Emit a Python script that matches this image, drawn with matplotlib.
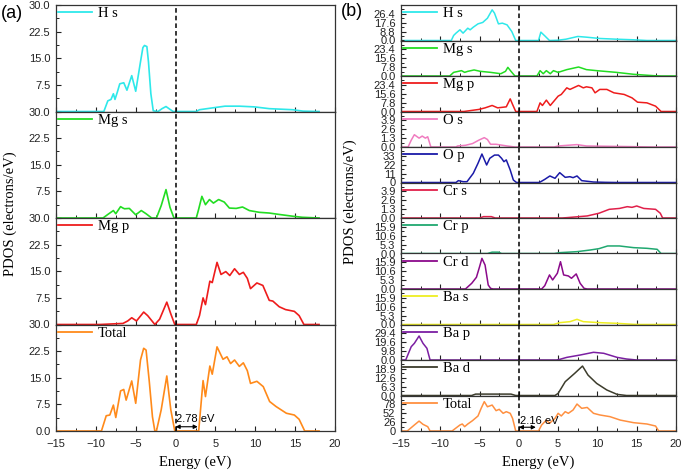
import numpy as np
import matplotlib
matplotlib.use("Agg")
import matplotlib.pyplot as plt
from matplotlib.ticker import MultipleLocator, FixedLocator, FixedFormatter

SANS = "Liberation Sans"
SERIF = "Liberation Serif"
plt.rcParams["font.family"] = SANS

# ==============================
#  DATA  (a) MgH2-like panel
# ==============================
a_hs_e = [-15, -9.0, -8.5, -8.1, -7.8, -7.6, -7.3, -7.0, -6.5, -6.1, -5.5, -5.0, -4.4, -4.1, -3.9, -3.6, -3.4,
          -3.1, -2.8, -2.2, -1.7, -1.2, -0.7, -0.3, 2.6, 3.0, 4.9, 6.2, 8.0, 9.9, 11.75, 14.7, 16.0, 18.0]
a_hs_v = [0, 0, 3.0, 3.4, 5.0, 3.4, 5.5, 7.8, 8.1, 6.0, 10.1, 5.7, 14.0, 18.0, 18.6, 18.3, 14.0,
          5.0, 0.2, 0, 0.8, 1.4, 0.6, 0, 0, 0.5, 1.1, 1.5, 1.5, 1.3, 0.8, 0.5, 0.1, 0]

a_mgs_e = [-15, -9.1, -8.5, -7.8, -7.5, -6.9, -6.6, -6.4, -5.8, -5.4, -5.0, -4.3, -3.7, -3.0, -2.4, -1.8, -1.2,
           -0.7, -0.2, 2.6, 2.9, 3.3, 3.75, 4.25, 4.75, 5.4, 6.1, 6.75, 7.6, 8.4, 9.25, 10.5, 11.75, 13.0,
           14.7, 15.9, 18.0]
a_mgs_v = [0, 0, 1.0, 2.1, 1.2, 3.2, 2.8, 2.6, 2.7, 1.8, 0.9, 2.1, 1.2, 0, 0, 3.5, 8.0,
           3.0, 0, 0, 2.5, 6.1, 3.75, 5.2, 4.2, 5.2, 4.5, 2.8, 2.7, 3.1, 2.1, 1.6, 1.4, 1.0,
           0.5, 0.2, 0]

a_mgp_e = [-15, -9.5, -6.6, -6.0, -5.5, -4.9, -4.0, -3.5, -2.6, -2.0, -1.1, -0.6, -0.1, 2.6, 3.0, 3.45, 3.75,
           4.3, 4.6, 5.2, 5.7, 6.3, 6.8, 7.4, 8.0, 8.5, 9.0, 9.4, 10.2, 10.95, 11.75, 12.2, 13.0, 13.8,
           14.9, 15.5, 16.1, 18.0]
a_mgp_v = [0, 0, 0.3, 1.0, 1.9, 1.0, 3.5, 2.5, 0, 1.5, 6.3, 3.0, 0, 0, 2.5, 7.5, 5.6,
           12.2, 11.8, 17.5, 14.1, 14.9, 13.8, 15.7, 14.1, 14.7, 13.0, 10.1, 11.7, 11.0, 6.8, 6.6, 5.0, 4.2,
           3.7, 2.5, 0, 0]

a_tot_e = [-15, -9.3, -8.7, -8.25, -7.8, -7.5, -6.9, -6.5, -6.2, -5.5, -5.0, -4.4, -4.0, -3.7, -3.3, -2.9,
           -2.6, -2.4, -1.8, -1.1, -0.6, -0.1, 2.9, 3.45, 3.75, 4.3, 4.6, 5.2, 5.95, 6.45, 6.9, 7.4, 8.0,
           8.5, 9.0, 9.4, 10.2, 11.0, 11.8, 12.6, 13.9, 14.9, 15.5, 16.2, 18.0]
a_tot_v = [0, 0, 4.3, 4.5, 7.3, 3.8, 11.3, 11.7, 8.7, 14.1, 7.8, 20.0, 23.3, 22.8, 14.0, 4.0,
           0, 0, 6.0, 15.5, 6.0, 0, 0, 14.2, 9.7, 18.3, 16.0, 23.7, 20.2, 20.9, 19.0, 20.0, 18.2,
           19.2, 17.0, 13.4, 14.0, 12.5, 8.3, 6.9, 5.0, 4.5, 3.3, 0, 0]

a_labels = ["H s", "Mg s", "Mg p", "Total"]
a_colors = ["#2EE8EA", "#22DD22", "#EE1C1C", "#FF8A1A"]
a_series = [(a_hs_e, a_hs_v), (a_mgs_e, a_mgs_v), (a_mgp_e, a_mgp_v), (a_tot_e, a_tot_v)]
a_ticks = [0, 7.5, 15, 22.5, 30]
a_gap = 2.78

# ==============================
#  DATA  (b) doped panel
# ==============================
b_hs_e = [-15, -8.6, -8.3, -8.0, -7.5, -7.1, -6.5, -6.2, -5.8, -5.2, -4.6, -4.0, -3.4, -3.1, -2.6, -2.1, -1.5,
          -0.9, -0.4, 2.5, 2.8, 3.3, 3.9, 5.0, 6.0, 7.5, 8.6, 10.3, 12.4, 14.6, 16.3, 20]
b_hs_v = [0, 0, 5.0, 7.3, 10.6, 7.3, 12.2, 10.6, 13.2, 16.5, 17.9, 22.1, 30.4, 27.1, 16.5, 17.2, 15.5,
          8.9, 0, 0, 8.3, 4.6, 0, 0.3, 1.3, 4.0, 3.3, 2.0, 1.3, 0.7, 0, 0]

b_mgs_e = [-15, -8.8, -8.3, -7.3, -6.9, -6.5, -5.7, -4.9, -3.6, -2.3, -1.7, -1.4, -1.0, -0.5, 2.3, 2.7, 3.1,
           3.5, 4.0, 4.4, 5.0, 6.1, 7.6, 8.6, 9.9, 12.4, 14.6, 17.1, 18.1, 20]
b_mgs_v = [0, 0, 3.2, 4.7, 3.2, 4.1, 5.3, 4.1, 3.2, 2.0, 4.1, 7.6, 4.1, 0, 0, 4.7, 2.0,
           4.7, 2.0, 4.7, 3.2, 5.6, 7.9, 5.6, 4.7, 3.2, 1.5, 0.3, 0, 0]

b_mgp_e = [-15, -7.0, -5.1, -4.3, -3.4, -2.7, -1.6, -1.1, -0.8, -0.4, 2.3, 2.7, 3.0, 3.5, 4.0, 5.0, 5.4, 6.1,
           6.5, 7.6, 8.2, 8.6, 9.3, 9.7, 10.3, 11.2, 12.1, 13.4, 14.4, 15.1, 16.3, 17.4, 18.1, 20]
b_mgp_v = [0, 0, 1.8, 3.2, 5.3, 3.2, 4.1, 11.1, 6.2, 0, 0, 7.6, 5.3, 10.0, 5.3, 13.5, 15.0, 20.8,
           19.4, 22.9, 20.8, 21.7, 20.8, 16.4, 19.4, 19.4, 16.4, 15.0, 12.0, 8.2, 7.6, 4.7, 0, 0]

b_os_e = [-15, -14.1, -13.7, -13.3, -12.7, -12.3, -11.9, -11.6, -11.2, -8.0, -7.8, -6.8, -5.9, -5.1, -4.4,
          -4.0, -3.6, -2.9, -1.5, -0.5, 4.5, 5.0, 7.4, 8.6, 14.6, 17.0, 20]
b_os_v = [0, 0, 1.0, 1.8, 1.3, 1.6, 1.3, 1.5, 0, 0, 0.15, 0.25, 0.5, 1.0, 1.37,
          1.1, 0.4, 0.4, 0.15, 0, 0, 0.15, 0.35, 0.15, 0.05, 0, 0]

b_op_e = [-15, -8.0, -7.7, -7.1, -6.6, -5.8, -5.2, -4.7, -4.1, -3.7, -3.1, -2.6, -2.2, -1.9, -1.6, -1.1,
          -0.7, -0.3, 2.5, 2.7, 3.3, 3.95, 4.6, 5.2, 5.9, 6.5, 6.9, 7.4, 8.0, 9.5, 11.0, 12.5, 20]
b_op_v = [0, 0, 2.3, 1.0, 1.0, 11.4, 23.8, 35.3, 21.7, 30.0, 34.0, 34.0, 30.0, 25.8, 28.0, 15.5,
          3.1, 0, 0, 0.5, 3.9, 8.1, 5.2, 12.2, 6.4, 7.2, 6.0, 8.1, 2.3, 0.6, 0.2, 0, 0]

b_crs_e = [-15, -5.0, -4.5, -3.5, -3.0, 5.5, 6.1, 8.7, 10.2, 11.5, 12.8, 13.8, 14.4, 15.0, 15.9, 17.4,
           18.0, 18.3, 20]
b_crs_v = [0, 0, 0.2, 0.2, 0, 0, 0.05, 0.3, 0.7, 1.27, 1.4, 1.66, 1.56, 1.76, 1.4, 1.27,
           0.7, 0, 0]

b_crp_e = [-15, -4.0, -3.4, -2.6, -2.2, 4.5, 5.2, 7.4, 9.1, 10.2, 11.3, 12.8, 14.6, 16.3, 17.6, 18.1, 20]
b_crp_v = [0, 0, 0.8, 0.8, 0, 0, 0.5, 1.1, 2.1, 2.9, 4.5, 4.5, 3.5, 3.1, 2.5, 0, 0]

b_crd_e = [-15, -6.8, -6.0, -5.4, -5.0, -4.7, -4.3, -3.9, -3.6, -3.3, 2.9, 3.3, 3.9, 4.3, 4.9, 5.3, 5.7,
           6.3, 6.7, 7.3, 7.8, 8.3, 8.7, 20]
b_crd_v = [0, 0, 3.4, 7.0, 13.3, 18.3, 14.3, 2.4, 0.4, 0, 0, 2.0, 8.4, 5.4, 9.4, 16.3, 8.4,
           7.8, 6.4, 9.0, 3.4, 0.4, 0, 0]

b_bas_e = [-15, 4.4, 5.2, 6.5, 7.4, 8.2, 10.3, 12.5, 14.6, 15.5, 20]
b_bas_v = [0, 0, 1.1, 1.7, 3.1, 1.7, 1.1, 0.7, 0.1, 0, 0]

b_bap_e = [-15, -14.4, -13.7, -13.3, -12.7, -12.2, -11.7, -11.3, 4.8, 5.2, 6.1, 7.8, 9.5, 10.8, 12.5, 13.7,
           15.0, 20]
b_bap_v = [0, 0, 14.7, 18.4, 26.5, 18.4, 12.9, 0, 0, 0.7, 2.9, 5.5, 8.5, 7.4, 2.9, 1.1,
           0, 0]

b_bad_e = [-15, -6.0, -5.5, -1.0, -0.4, 4.6, 5.0, 5.9, 7.1, 8.1, 8.8, 9.9, 11.2, 12.5, 13.7, 20]
b_bad_v = [0, 0, 1.0, 1.0, 0, 0, 1.5, 9.8, 15.7, 20.9, 14.5, 8.6, 3.9, 0.8, 0, 0]

b_tot_e = [-15, -14.2, -13.3, -12.7, -12.2, -11.6, -11.3, -8.5, -7.5, -7.2, -6.9, -6.5, -5.9, -5.2, -4.8,
           -4.4, -4.0, -3.4, -2.9, -2.5, -2.0, -1.6, -1.1, -0.8, -0.4, 2.5, 2.9, 3.5, 3.9, 4.6, 5.0, 5.4,
           5.9, 6.3, 6.9, 7.4, 8.0, 8.7, 9.5, 10.3, 11.6, 12.9, 14.6, 16.3, 17.4, 17.8, 20]
b_tot_v = [0, 0, 17.6, 29.0, 19.5, 12.7, 0, 0, 17.6, 20.5, 12.7, 20.5, 30.3, 44.0, 66.4,
           86.0, 71.0, 76.0, 59.6, 63.5, 51.8, 56.6, 51.8, 37.0, 0, 0, 17.6, 32.0, 22.5, 37.0, 51.8, 44.0,
           56.6, 51.8, 61.5, 79.0, 66.4, 69.0, 51.8, 47.0, 42.0, 32.0, 24.4, 20.5, 14.6, 0, 0]

b_labels = ["H s", "Mg s", "Mg p", "O s", "O p", "Cr s", "Cr p", "Cr d", "Ba s", "Ba p", "Ba d", "Total"]
b_colors = ["#2EE8EA", "#22DD22", "#EE1C1C", "#F07CC0", "#1A1AA8", "#E0204A",
            "#20A870", "#8B0A8B", "#EEEE22", "#7B1FA2", "#3C3C2C", "#FF9040"]
b_series = [(b_hs_e, b_hs_v), (b_mgs_e, b_mgs_v), (b_mgp_e, b_mgp_v), (b_os_e, b_os_v),
            (b_op_e, b_op_v), (b_crs_e, b_crs_v), (b_crp_e, b_crp_v), (b_crd_e, b_crd_v),
            (b_bas_e, b_bas_v), (b_bap_e, b_bap_v), (b_bad_e, b_bad_v), (b_tot_e, b_tot_v)]
b_step = [8.8, 7.8, 7.8, 1.3, 11, 1.3, 5.3, 5.3, 5.3, 9.8, 6.3, 26]
b_fmt = ["{:.1f}"] * 4 + ["{:.0f}"] + ["{:.1f}"] * 6 + ["{:.0f}"]
b_gap = 2.16

# ==============================
#  FIGURE
# ==============================
W, H = 685, 472
fig = plt.figure(figsize=(W / 100, H / 100), dpi=100)
TOP, BOT = 5, 431


def px_rect(x0, x1, y0, y1):
    return [x0 / W, (H - y1) / H, (x1 - x0) / W, (y1 - y0) / H]


def style_ax(ax, last):
    ax.set_xlim(-15, 20)
    ax.xaxis.set_major_locator(MultipleLocator(5))
    ax.xaxis.set_minor_locator(MultipleLocator(2.5))
    ax.tick_params(axis="both", which="major", direction="in", length=3.5, width=0.8,
                   labelsize=8, pad=4, colors="#222222")
    ax.tick_params(axis="both", which="minor", direction="in", length=2, width=0.7, colors="#222222")
    ax.tick_params(axis="x", pad=5.5, labelbottom=last)
    for s in ax.spines.values():
        s.set_linewidth(0.9)
        s.set_color("#333333")
    ax.axvline(0, color="black", lw=1.1, ls=(0, (3, 2)), zorder=5)


def add_legend(ax, label, color):
    ax.plot([], [], color=color, lw=1.3, label=label)
    ax.legend(loc="upper left", bbox_to_anchor=(0, 1.0), frameon=False, borderpad=0.15,
              borderaxespad=0, handlelength=2.3, handletextpad=0.4,
              prop={"family": SERIF, "size": 10.5})


def gap_arrow(ax, gap, y, ty):
    ax.annotate("", xy=(0, y), xytext=(gap, y),
                arrowprops=dict(arrowstyle="<|-|>", color="black", lw=0.8,
                                mutation_scale=6, shrinkA=0, shrinkB=0))
    ax.text(0.1, ty, f"{gap:.2f} eV", fontsize=8, ha="left", va="bottom", family=SANS)


# ---- panel (a): the "0.0" of upper panels sits under the next panel's "30.0"
n_a = len(a_labels)
hA = (BOT - TOP) / n_a
for i, ((e, v), lab, col) in enumerate(zip(a_series, a_labels, a_colors)):
    last = i == n_a - 1
    ax = fig.add_axes(px_rect(56, 335, TOP + i * hA, TOP + (i + 1) * hA))
    ax.plot(e, v, color=col, lw=1.2)
    ax.set_ylim(0, 30)
    ax.yaxis.set_major_locator(FixedLocator(a_ticks))
    ax.yaxis.set_minor_locator(MultipleLocator(3.75))
    tl = [f"{t:.1f}" for t in a_ticks]
    if not last:
        tl[0] = ""
    ax.yaxis.set_major_formatter(FixedFormatter(tl))
    style_ax(ax, last)
    add_legend(ax, lab, col)
    if last:
        gap_arrow(ax, a_gap, 1.2, 2.0)
        ax.set_xlabel("Energy (eV)", family=SERIF, fontsize=10.5, labelpad=5)

# ---- panel (b)
n_b = len(b_labels)
hB = (BOT - TOP) / n_b
for i, ((e, v), lab, col, st, fm) in enumerate(zip(b_series, b_labels, b_colors, b_step, b_fmt)):
    last = i == n_b - 1
    ax = fig.add_axes(px_rect(401, 676, TOP + i * hB, TOP + (i + 1) * hB))
    ax.plot(e, v, color=col, lw=1.1)
    ax.set_ylim(0, 4 * st)
    ticks = [0, st, 2 * st, 3 * st]
    ax.yaxis.set_major_locator(FixedLocator(ticks))
    ax.yaxis.set_minor_locator(MultipleLocator(st / 2))
    ax.yaxis.set_major_formatter(FixedFormatter([fm.format(t) for t in ticks]))
    style_ax(ax, last)
    add_legend(ax, lab, col)
    if last:
        gap_arrow(ax, b_gap, 11, 16)
        ax.set_xlabel("Energy (eV)", family=SERIF, fontsize=10.5, labelpad=5)

fig.text(10 / W, (H - 214) / H, "PDOS (electrons/eV)", rotation=90, family=SERIF, fontsize=10.5,
         ha="center", va="center")
fig.text(350 / W, (H - 202) / H, "PDOS (electrons/eV)", rotation=90, family=SERIF, fontsize=10.5,
         ha="center", va="center")
fig.text(1 / W, (H - 14) / H, "(a)", fontsize=13, ha="left", va="center")
fig.text(341 / W, (H - 11) / H, "(b)", fontsize=13, ha="left", va="center")

fig.savefig("out.png", dpi=100)
